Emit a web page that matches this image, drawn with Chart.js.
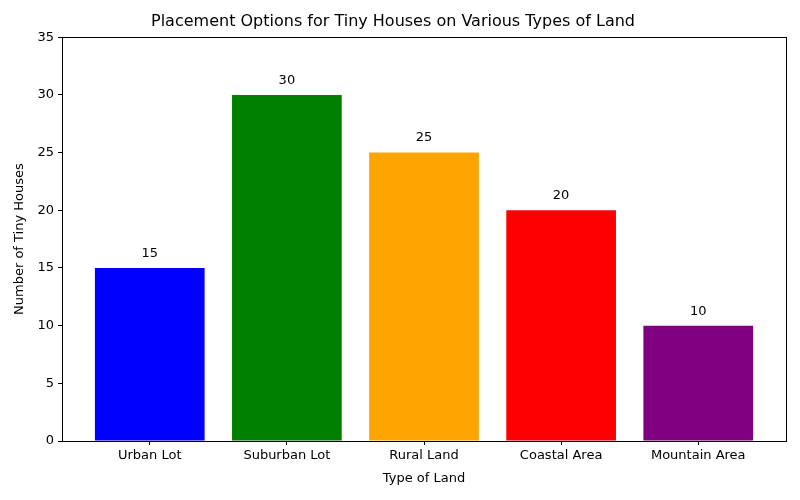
<!DOCTYPE html>
<html>
<head>
<meta charset="utf-8">
<script src="https://cdn.jsdelivr.net/npm/chart.js@4"></script>
<style>
  html, body { margin: 0; padding: 0; background: #fff; }
  #wrap { width: 800px; height: 500px; }
</style>
</head>
<body>
<div id="wrap"><canvas id="chart" width="800" height="500"></canvas></div>
<script>
const landTypes = ['Urban Lot', 'Suburban Lot', 'Rural Land', 'Coastal Area', 'Mountain Area'];
const houseCounts = [15, 30, 25, 20, 10];
const barColors = ['blue', 'green', 'orange', 'red', 'purple'];
const yTicks = [0, 5, 10, 15, 20, 25, 30, 35];

const font = 'DejaVu Sans';

// value labels above bars + full frame like matplotlib spines
const barLabels = {
  id: 'barLabels',
  afterDatasetsDraw(chart) {
    const ctx = chart.ctx;
    const meta = chart.getDatasetMeta(0);
    ctx.save();
    ctx.fillStyle = '#000';
    ctx.font = `13px "${font}"`;
    ctx.textAlign = 'center';
    ctx.textBaseline = 'bottom';
    meta.data.forEach((bar, i) => {
      ctx.fillText(String(houseCounts[i]), bar.x, bar.y - 8);
    });
    const a = chart.chartArea;
    ctx.strokeStyle = '#000';
    ctx.lineWidth = 1;
    ctx.strokeRect(Math.round(a.left) + 0.5, Math.round(a.top) + 0.5, Math.round(a.right - a.left), Math.round(a.bottom - a.top));
    ctx.restore();
  }
};

new Chart(document.getElementById('chart').getContext('2d'), {
  type: 'bar',
  data: {
    datasets: [{
      data: houseCounts.map((v, i) => ({ x: i, y: v })),
      backgroundColor: barColors,
      borderWidth: 0,
      categoryPercentage: 1,
      barPercentage: 0.8
    }]
  },
  options: {
    responsive: false,
    animation: false,
    layout: { padding: { left: 0, right: 14, top: 0, bottom: 0 } },
    plugins: {
      legend: { display: false },
      tooltip: { enabled: false },
      title: {
        display: true,
        text: 'Placement Options for Tiny Houses on Various Types of Land',
        color: '#000',
        font: { family: font, size: 16, weight: 'normal' },
        padding: { top: 12, bottom: 6 }
      }
    },
    scales: {
      x: {
        type: 'linear',
        offset: false,
        min: -0.64,
        max: 4.64,
        afterBuildTicks(scale) {
          scale.ticks = landTypes.map((_, i) => ({ value: i }));
        },
        afterFit(scale) { scale.height = 59; },
        ticks: {
          color: '#000',
          font: { family: font, size: 13 },
          padding: 3,
          maxRotation: 0,
          autoSkip: false,
          callback: v => landTypes[v]
        },
        grid: { offset: false, drawOnChartArea: false, drawTicks: true, tickLength: 4, color: '#000' },
        border: { display: true, color: '#000' },
        title: {
          display: true,
          text: 'Type of Land',
          color: '#000',
          font: { family: font, size: 13 },
          padding: { top: 2, bottom: 14 }
        }
      },
      y: {
        min: 0,
        max: 35,
        afterBuildTicks(scale) {
          scale.ticks = yTicks.map(v => ({ value: v }));
        },
        afterFit(scale) { scale.width = 62; },
        ticks: {
          color: '#000',
          font: { family: font, size: 13 },
          padding: 4
        },
        grid: { drawOnChartArea: false, drawTicks: true, tickLength: 4, color: '#000' },
        border: { display: true, color: '#000' },
        title: {
          display: true,
          text: 'Number of Tiny Houses',
          color: '#000',
          font: { family: font, size: 13 },
          padding: { top: 12, bottom: 4 }
        }
      }
    }
  },
  plugins: [barLabels]
});
</script>
</body>
</html>
